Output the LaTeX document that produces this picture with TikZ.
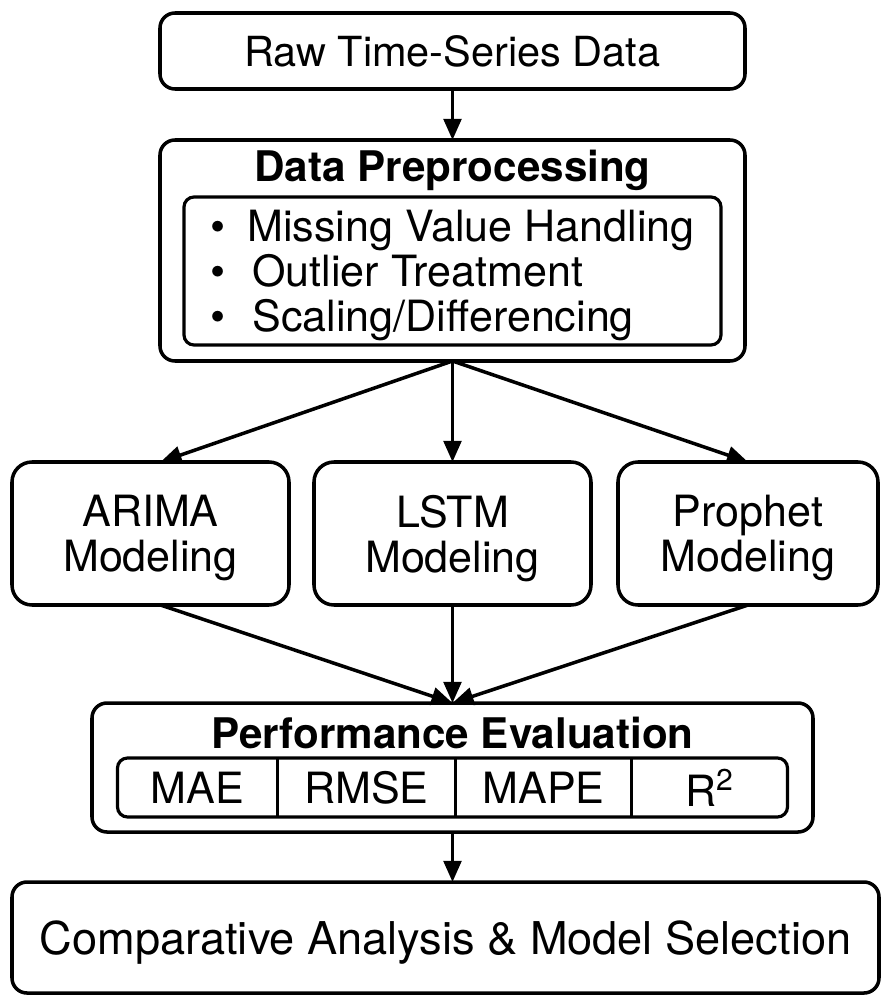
\documentclass[tikz,border=0pt]{standalone}
\usepackage{fontspec}
\setmainfont{TeX Gyre Heros}
\usetikzlibrary{positioning,arrows.meta}

\begin{document}
\begin{tikzpicture}[->,>={Triangle[length=12pt,width=10pt]},line width=2pt,
  font=\fontsize{24.5}{25.6}\selectfont]
\tikzstyle{block}=[draw=black,line width=2pt,rounded corners=0.3cm,inner sep=0pt,outer sep=0pt,align=center]
\tikzstyle{model}=[block,rounded corners=0.4cm,minimum width=5.54cm,minimum height=2.86cm,text depth=0pt]
\tikzstyle{inner}=[draw=black,line width=1.8pt,rounded corners=0.2cm,outer sep=0pt]
\tikzstyle{title}=[font=\fontsize{24}{25.6}\selectfont\bfseries]
\tikzstyle{cell}=[inner sep=0pt,outer sep=0pt,minimum height=1.18cm]

\useasboundingbox (-9.05,1.02) rectangle (8.57,-18.9);

% input and preprocessing
\node[block,minimum width=11.7cm,minimum height=1.52cm,font=\fontsize{23.6}{25.6}\selectfont] (raw) at (0,0) {Raw Time-Series Data};
\node[block,minimum width=11.7cm,minimum height=4.42cm][below=1.02cm of raw] (pre) {};
\node[title] (pretitle) at ([yshift=-0.6cm]pre.north) {Data Preprocessing};
\node[inner,anchor=north,minimum width=10.74cm,minimum height=2.96cm,align=left,text depth=0pt] (steps)
  at ([yshift=-1.14cm]pre.north)
  {\textbullet\hspace{0.44cm}Missing Value Handling\\
   \textbullet\hspace{0.54cm}Outlier Treatment\\
   \textbullet\hspace{0.54cm}Scaling/Differencing};

% the three models
\node[model][below=2.02cm of pre] (lstm) {LSTM\\Modeling};
\node[model][left=0.5cm of lstm] (arima) {ARIMA\\Modeling};
\node[model,minimum width=5.2cm][right=0.54cm of lstm] (prophet) {Prophet\\Modeling};

% evaluation
\node[block,minimum width=14.42cm,minimum height=2.58cm][below=1.96cm of lstm] (perf) {};
\node[title] (perftitle) at ([yshift=-0.6cm]perf.north) {Performance Evaluation};
\node[inner,anchor=north,minimum width=13.4cm,minimum height=1.18cm] (metrics) at ([yshift=-1.1cm]perf.north) {};
\node[cell,minimum width=3.2cm,anchor=west] (mae) at (metrics.west) {MAE};
\node[cell,minimum width=3.56cm][right=0pt of mae] (rmse) {RMSE};
\node[cell,minimum width=3.52cm][right=0pt of rmse] (mape) {MAPE};
\node[cell,minimum width=3.12cm][right=0pt of mape] (rsq) {R\textsuperscript{2}};
\foreach \c in {mae,rmse,mape}
  \draw[-,line width=1.8pt] (\c.east |- metrics.north) -- (\c.east |- metrics.south);

% result
\node[block,minimum width=17.34cm,minimum height=2.22cm,text depth=0pt,font=\fontsize{25.7}{25.6}\selectfont]
  [below=1cm of perf,xshift=-0.14cm] (final) {Comparative Analysis \& Model Selection};

\path (raw) edge (pre)
      (pre.south) edge ([xshift=0.2cm]arima.north)
                  edge (lstm.north)
                  edge (prophet.north)
      ([xshift=0.2cm]arima.south) edge (perf.north)
      (lstm.south) edge (perf.north)
      (prophet.south) edge (perf.north)
      (perf.south) edge (perf.south |- final.north);
\end{tikzpicture}
\end{document}
